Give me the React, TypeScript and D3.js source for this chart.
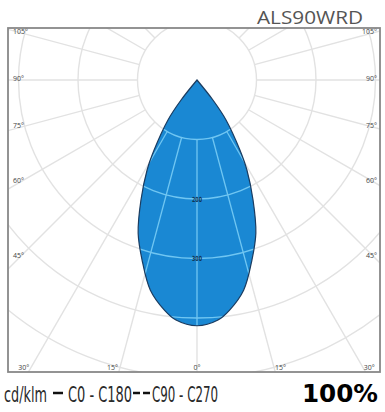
import React from "react";
import * as d3 from "d3";

// ---- data ----
const TITLE = "ALS90WRD";
const UNIT = "cd/klm";
const SERIES_LABELS = ["C0 - C180", "C90 - C270"];
const EFFICIENCY = "100%";
// C0-C180 outline: gamma (deg from nadir) and intensity (cd/klm), symmetric
const GAMMA = [0, 5, 8, 12.5, 17, 21, 25, 29, 31.5, 36, 38.5, 38];
const C0_C180 = [413, 405, 391, 362, 316, 276, 223, 173, 138, 83, 43, 0];
const RING_VALUES = [100, 200, 300, 400, 500, 600];
const RING_LABELS = [200, 300];
const ANGLE_TICKS = [0, 15, 30, 45, 60, 75, 90, 105];

export default function App() {
  const W = 385, H = 412;
  const fx0 = 8, fy0 = 28, fx1 = 380, fy1 = 372;
  const cx = 197, cy = 80;
  const r = d3.scaleLinear().domain([0, 100]).range([0, 59.5]);
  const rad = (deg: number) => (deg * Math.PI) / 180;

  const pts: { t: number; v: number }[] = [];
  for (let i = GAMMA.length - 1; i >= 1; i--) pts.push({ t: -GAMMA[i], v: C0_C180[i] });
  for (let i = 0; i < GAMMA.length; i++) pts.push({ t: GAMMA[i], v: C0_C180[i] });
  const line = d3
    .lineRadial<{ t: number; v: number }>()
    .angle((d) => Math.PI - rad(d.t))
    .radius((d) => r(d.v))
    .curve(d3.curveCatmullRom.alpha(0.5));
  const lobe = (line(pts) || "") + "Z";

  const spokes: number[] = [];
  for (let a = 0; a < 360; a += 15) spokes.push(a);
  const rMin = r(RING_VALUES[0]);
  const rMax = 500;

  const grid = (stroke: string, width: number) => (
    <g fill="none" stroke={stroke} strokeWidth={width}>
      {RING_VALUES.map((v) => (
        <circle key={"c" + v} cx={cx} cy={cy} r={r(v)} />
      ))}
      {spokes.map((a) => (
        <line
          key={"s" + a}
          x1={cx + rMin * Math.sin(rad(a))}
          y1={cy + rMin * Math.cos(rad(a))}
          x2={cx + rMax * Math.sin(rad(a))}
          y2={cy + rMax * Math.cos(rad(a))}
        />
      ))}
    </g>
  );

  // angle labels
  const labels: { x: number; y: number; anchor: string; text: string }[] = [];
  const sideD = cx - 20;
  const bottomY = 367;
  ANGLE_TICKS.forEach((a) => {
    const txt = a + "°";
    if (a >= 45) {
      const dy = (sideD * Math.cos(rad(a))) / Math.sin(rad(a));
      const y = cy + dy + 1;
      labels.push({ x: 13, y, anchor: "start", text: txt });
      labels.push({ x: 377, y, anchor: "end", text: txt });
    } else if (a === 0) {
      labels.push({ x: cx, y: bottomY + 2.5, anchor: "middle", text: txt });
    } else {
      const dx = (bottomY - cy) * Math.tan(rad(a));
      labels.push({ x: cx - dx - 2, y: bottomY + 2.5, anchor: "end", text: txt });
      labels.push({ x: cx + dx + 1, y: bottomY + 2.5, anchor: "start", text: txt });
    }
  });

  return (
    <svg
      width={W}
      height={H}
      viewBox={`0 0 ${W} ${H}`}
      style={{ position: "absolute", left: 0, top: 0, background: "#fff" }}
    >
      <defs>
        <clipPath id="frameClip">
          <rect x={fx0} y={fy0} width={fx1 - fx0} height={fy1 - fy0} />
        </clipPath>
        <clipPath id="lobeClip">
          <path d={lobe} transform={`translate(${cx},${cy})`} />
        </clipPath>
      </defs>
      <rect x={0} y={0} width={W} height={H} fill="#fff" />
      <text
        x={363}
        y={24}
        textAnchor="end"
        fontFamily="Open Sans, sans-serif"
        fontSize={19}
        fill="#555"
        textLength={106}
        lengthAdjust="spacingAndGlyphs"
      >
        {TITLE}
      </text>
      <g clipPath="url(#frameClip)">{grid("#e2e2e2", 1.4)}</g>
      <path d={lobe} transform={`translate(${cx},${cy})`} fill="#1a88d3" />
      <g clipPath="url(#lobeClip)">{grid("#70c6f2", 1.3)}</g>
      <path
        d={lobe}
        transform={`translate(${cx},${cy})`}
        fill="none"
        stroke="#1b3c60"
        strokeWidth={1.2}
      />
      {RING_LABELS.map((v) => (
        <text
          key={"rl" + v}
          x={cx}
          y={cy + r(v) + 2.5}
          textAnchor="middle"
          fontFamily="DejaVu Sans, sans-serif"
          fontWeight="bold"
          fontSize={7}
          fill="#0f3556"
          textLength={10}
          lengthAdjust="spacingAndGlyphs"
        >
          {v}
        </text>
      ))}
      {labels.map((l, i) => (
        <text
          key={"al" + i}
          x={l.x}
          y={l.y}
          textAnchor={l.anchor as any}
          fontFamily="Open Sans, sans-serif"
          fontSize={7}
          fill="#444"
        >
          {l.text}
        </text>
      ))}
      <rect
        x={fx0}
        y={fy0}
        width={fx1 - fx0}
        height={fy1 - fy0}
        fill="none"
        stroke="#888"
        strokeWidth={1.8}
      />
      <g fontFamily="DejaVu Sans, sans-serif" fontStretch="condensed" fontSize={20.5} fill="#2a2a2a">
        <text x={4} y={402} textLength={43} lengthAdjust="spacingAndGlyphs">
          {UNIT}
        </text>
        <line x1={53} x2={63} y1={393} y2={393} stroke="#111" strokeWidth={2.5} />
        <text x={68} y={402} textLength={64} lengthAdjust="spacingAndGlyphs">
          {SERIES_LABELS[0]}
        </text>
        <line x1={133} x2={140} y1={393} y2={393} stroke="#111" strokeWidth={2.5} />
        <line x1={143} x2={150} y1={393} y2={393} stroke="#111" strokeWidth={2.5} />
        <text x={152} y={402} textLength={66} lengthAdjust="spacingAndGlyphs">
          {SERIES_LABELS[1]}
        </text>
      </g>
      <text
        x={302}
        y={402}
        fontFamily="DejaVu Sans, sans-serif"
        fontWeight="bold"
        fontSize={25}
        fill="#000"
        textLength={76}
        lengthAdjust="spacingAndGlyphs"
      >
        {EFFICIENCY}
      </text>
    </svg>
  );
}
